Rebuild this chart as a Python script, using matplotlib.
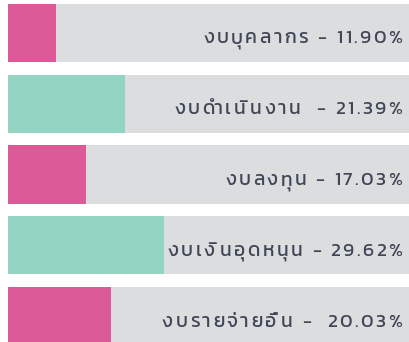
import unicodedata

import matplotlib

matplotlib.use("Agg")

import matplotlib.pyplot as plt
import matplotlib.transforms as mtransforms
from matplotlib import font_manager
from matplotlib.font_manager import FontProperties

# budget categories, their share of the total, and how far each bar is filled
categories = ["งบบุคลากร", "งบดำเนินงาน ", "งบลงทุน", "งบเงินอุดหนุน", "งบรายจ่ายอื่น"]
shares = ["11.90", "21.39", "17.03", "29.62", " 20.03"]
fill_pct = [12.0, 29.0, 19.3, 38.9, 25.5]
bar_colors = ["#DC5A98", "#93D4C2", "#DC5A98", "#93D4C2", "#DC5A98"]

TRACK_COLOR = "#DCDDDF"
TEXT_COLOR = "#3F4656"
FONT_SIZE = 13.8
TRACKING_PX = 2.5
BASELINE_DROP_PX = 10.5

installed = {f.name for f in font_manager.fontManager.ttflist}
thai = next((n for n in ["Kanit", "Prompt", "Noto Sans Thai UI", "Noto Sans Thai"] if n in installed),
            "DejaVu Sans")
prop = FontProperties(family=[thai, "DejaVu Sans"], size=FONT_SIZE, weight="normal")


def clusters(s):
    # keep Thai marks (and sara am) together with the consonant they sit on
    out = []
    for ch in s:
        if out and (unicodedata.combining(ch) or ch == "\u0e33"):
            out[-1] += ch
        else:
            out.append(ch)
    return out


def text_width(renderer, s):
    w_pad, _, _ = renderer.get_text_width_height_descent("||", prop, ismath=False)
    w, _, _ = renderer.get_text_width_height_descent("|" + s + "|", prop, ismath=False)
    return w - w_pad


def tracked_text(ax, renderer, x_axes, y_data, s):
    # right-aligned text with extra space between letters
    trans = mtransforms.blended_transform_factory(ax.transAxes, ax.transData)
    parts = clusters(s)
    x_px = TRACKING_PX
    for part in reversed(parts):
        x_px -= text_width(renderer, part) + TRACKING_PX
        if part.isspace():
            continue
        off = mtransforms.ScaledTranslation(x_px / fig.dpi, -BASELINE_DROP_PX / fig.dpi, fig.dpi_scale_trans)
        ax.text(x_axes, y_data, part, transform=trans + off, ha="left", va="baseline",
                fontproperties=prop, color=TEXT_COLOR)


fig = plt.figure(figsize=(4.09, 3.42), dpi=100)
ax = fig.add_axes([0, 0, 1, 1])
ax.set_xlim(-2.1, 100)
ax.set_ylim(4.367, -0.466)
ax.axis("off")

y = list(range(len(categories)))
ax.barh(y, [110] * len(y), height=0.82, color=TRACK_COLOR, left=0)
ax.barh(y, fill_pct, height=0.82, color=bar_colors, left=0)

renderer = fig.canvas.get_renderer()
for yi, cat, share in zip(y, categories, shares):
    tracked_text(ax, renderer, 0.983, yi, f"{cat} - {share}%")

fig.savefig("out.png", dpi=100)
